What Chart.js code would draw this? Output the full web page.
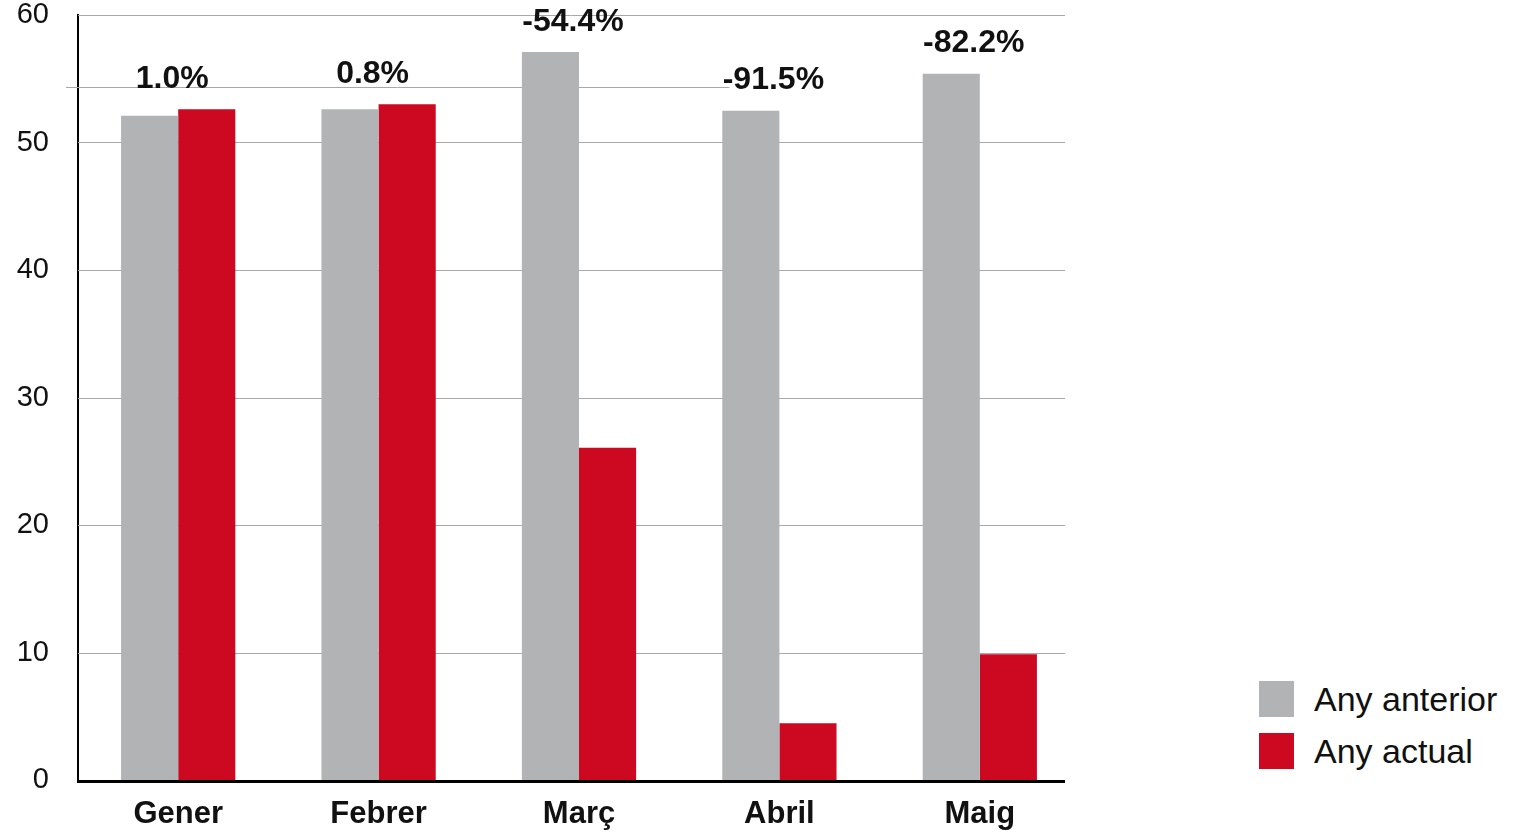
<!DOCTYPE html>
<html>
<head>
<meta charset="utf-8">
<script src="https://cdn.jsdelivr.net/npm/chart.js@4.4.1/dist/chart.umd.min.js"></script>
<style>
  body { margin: 0; background: #fff; width: 1517px; height: 832px; overflow: hidden; position: relative; font-family: "Liberation Sans", Arial, sans-serif; }
  #wrap { position: absolute; left: 0; top: 0; width: 1100px; height: 832px; }
  .legend { position: absolute; left: 1259px; top: 681px; }
  .item { display: flex; align-items: center; height: 36px; margin-bottom: 16px; font-size: 34px; color: #111; }
  .swatch { width: 35px; height: 36px; margin-right: 20px; }
</style>
</head>
<body>
<div id="wrap"><canvas id="barChart"></canvas></div>
<div class="legend" id="legend"></div>
<script>
// Mesos i valors (milers)
const months = ['Gener', 'Febrer', 'Març', 'Abril', 'Maig'];
const previousYear = [52.1, 52.6, 57.1, 52.5, 55.4];
const currentYear = [52.6, 53.0, 26.05, 4.46, 9.86];
const changeLabels = ['1.0%', '0.8%', '-54.4%', '-91.5%', '-82.2%'];
const seriesNames = ['Any anterior', 'Any actual'];
const seriesColors = ['#b2b3b5', '#cc0920'];
const yMin = 0, yMax = 60, yStep = 10;
const extraRule = 54.35;

const FONT = '"Liberation Sans", Arial, sans-serif';

// Graella, eixos i etiquetes de variació
const decor = {
    id: 'decor',
    beforeDatasetsDraw(chart) {
        const { ctx, chartArea, scales: { x, y } } = chart;
        const right = chartArea.right - 15;
        ctx.save();
        ctx.strokeStyle = '#a8a8a8';
        ctx.lineWidth = 1;
        for (let v = yMin + yStep; v <= yMax; v += yStep) {
            const py = Math.round(y.getPixelForValue(v)) + 0.5;
            ctx.beginPath();
            ctx.moveTo(chartArea.left, py);
            ctx.lineTo(right, py);
            ctx.stroke();
        }
        const ry = Math.round(y.getPixelForValue(extraRule)) + 0.5;
        ctx.beginPath();
        ctx.moveTo(chartArea.left - 12, ry);
        ctx.lineTo(x.getPixelForValue(3) - 50, ry);
        ctx.stroke();
        ctx.restore();
    },
    afterDatasetsDraw(chart) {
        const { ctx, chartArea, scales: { x, y } } = chart;
        ctx.save();
        ctx.fillStyle = '#000';
        ctx.fillRect(chartArea.left - 1, chartArea.bottom, chartArea.right - 15 - chartArea.left + 1, 3);

        ctx.font = 'bold 32px ' + FONT;
        ctx.textAlign = 'center';
        ctx.textBaseline = 'middle';
        ctx.fillStyle = '#111';
        changeLabels.forEach((txt, i) => {
            const top = y.getPixelForValue(Math.max(previousYear[i], currentYear[i]));
            ctx.fillText(txt, x.getPixelForValue(i) - 6, top - 30);
        });
        ctx.restore();
    }
};

const ctx = document.getElementById('barChart').getContext('2d');
new Chart(ctx, {
    type: 'bar',
    data: {
        labels: months,
        datasets: [
            { label: seriesNames[0], data: previousYear, backgroundColor: seriesColors[0] },
            { label: seriesNames[1], data: currentYear, backgroundColor: seriesColors[1] }
        ]
    },
    options: {
        animation: false,
        responsive: true,
        maintainAspectRatio: false,
        layout: { padding: { top: 15, right: 20, left: 0, bottom: 0 } },
        datasets: { bar: { categoryPercentage: 0.57, barPercentage: 1.0, borderWidth: 0 } },
        plugins: { legend: { display: false }, tooltip: { enabled: false } },
        scales: {
            x: {
                grid: { display: false, drawTicks: false },
                border: { display: false },
                ticks: { color: '#111', padding: 16, font: { family: FONT, size: 31, weight: 'bold' } },
                afterFit(scale) {
                    scale.height = 52;
                    scale.paddingLeft = 0;
                    scale.paddingRight = 0;
                }
            },
            y: {
                min: yMin,
                max: yMax,
                grid: { display: false, drawTicks: false },
                border: { display: true, color: '#000', width: 2 },
                ticks: { stepSize: yStep, color: '#111', padding: 29, font: { family: FONT, size: 29 } },
                afterFit(scale) {
                    scale.width = 78;
                    scale.paddingTop = 0;
                    scale.paddingBottom = 0;
                }
            }
        }
    },
    plugins: [decor]
});

// Llegenda
const legend = document.getElementById('legend');
seriesNames.forEach((name, i) => {
    const item = document.createElement('div');
    item.className = 'item';
    item.innerHTML = '<span class="swatch" style="background:' + seriesColors[i] + '"></span><span>' + name + '</span>';
    legend.appendChild(item);
});
</script>
</body>
</html>
